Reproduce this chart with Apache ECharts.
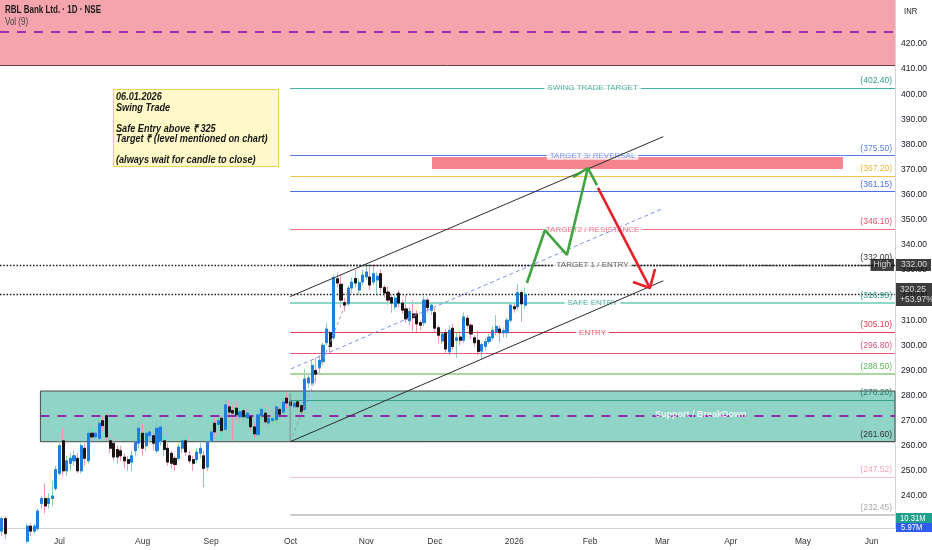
<!DOCTYPE html>
<html><head><meta charset="utf-8">
<script src="https://cdn.jsdelivr.net/npm/echarts@6/dist/echarts.min.js"></script>
<style>html,body{margin:0;padding:0;background:#fff}#c{width:932px;height:550px}</style>
</head><body><div id="c"></div>
<script>
// ---------- categories (NSE trading days) ----------
const startDate = '2025-06-09', endDate = '2026-06-09';
const holidays = ['2025-08-15','2025-08-27','2025-10-02','2025-10-22','2025-11-05','2025-12-25',
  '2026-01-26','2026-03-03','2026-03-26','2026-03-31','2026-04-03','2026-04-14','2026-05-01','2026-05-28'];
const monthNames = ['Jan','Feb','Mar','Apr','May','Jun','Jul','Aug','Sep','Oct','Nov','Dec'];

// ---------- daily candles (from 2025-06-09 to 2026-01-06) ----------
const opens = [226,231,225,222,224,221,219,222,228,226,227,237,239,237,239,243,249,262,250,253,254,255,250,259,254,265,263.5,263,270,272,
 262,261,258.5,258,255.5,254.5,253.5,258,261,265,260,264,264,258,262,262,259,257,255,255,259,262,256,254.5,254.5,257,256,251.5,262,269,
 268.5,271,266.5,275.5,274,275,271.5,274,271,271.5,267.5,264.5,272,273,269,270,270.3,274.5,273.4,279,277.5,275.5,277.5,276,274.5,285,285,290,291,293.5,
 301,305,303,326.5,324.3,317,316.5,322.8,326.6,322,325.2,327.2,327.2,325.2,326,328.5,323,321.2,319,315.3,320.8,316.8,314.5,309.8,312.5,312.5,309,309,318,314,
 313,307,301.7,305,297.4,306.8,302,303.3,302,310.8,308,303,302,297.7,299.6,301.5,303,305.5,306.5,305,305,310,315.4,315.3,321,316];
const closes = [231,225,222,224,221,219,222,228,226,228,234,239,236,239,240,250.5,260,250,254,255,256,250,260,255,265,263.5,265,269,268,263.5,
 259,255.5,255.5,256,254,253,256,261.5,267,259,265,265.5,261,267,267.5,258.5,253.5,253,252.5,259.5,262,257.5,254,253,257.5,259,251,261.5,265.5,265.5,
 270,266,276.3,273.4,273,272.3,273.5,271.5,273,267.5,264.7,272.3,274.5,269.5,271,270.8,275.5,272.5,277.4,277,276,277,275.5,273.5,286.6,287,292,288.5,294,300,
 306.5,299.5,327,324.8,318,316,322.8,325.2,324.8,325,328,329.2,324,328.5,327.5,323,320.8,318,316.8,318.8,316.8,314,310.5,313.5,311,308.5,308,318,315,316,
 306.8,304,304.5,298.5,306,299.5,303,302,311.3,308,304.5,301,297.5,300.3,301.5,303.3,306,307.5,305,305.8,310,316,314.5,321,316.5,320.25];
const lows = [224,223,220,220,219,217,218,221,224,225,226,235,233,235,236,242,248,248,248,250,252,249,249,252,253,262,262,262,266,262,
 257,254,253,254,251,250,250,256,259,256,258,261,258,257,260,256,252,251,250,254,257,256,253,250,253,255,243.5,250,261,264,
 266,264,265,271,262,270,269,269,268,266,263,263,270,268,267,268,269,271,272,275,274,274,274,272,273,283,284,285,289,292,
 300,297,302,323,315,313.5,315.5,321,323,320,324,326,322,324,320,321,319,316,313,314,315,312.5,309,308,305.5,305,306,307.5,313,312,
 305,301,300.5,297,296,298,295,300,301,306.5,302.5,299.5,296,294.5,298,300.5,302,304,301,303,303,309,313,314,309.4,314.5];
const highs = [232,232,226,226,225,223,224,229,229,229,235,240,245,241,246,252,262,267,256,257,258,257,261,261,268,267,266,272,272,273,
 263,263,260,260,257,256,258,263,270,269,267,267,265,270,272,264,261,258,256,261,263,264,258,256,259,261,258,263,267,271,
 272,272,279,278,276,277,275,275,275,273,269,274,276,276,272,272,278,276,279,281,279,278,278.5,277,290.5,289,294,295,296,301,
 309,306,328,329,328,319,324,327,330,326.5,330,332,331.5,332,329,330,324,323.5,320,320,322,318,320,315,318,314,310,319.5,319,317,
 315,308,305.5,306.5,308,308.5,305,305,313,312,309,304,306,301,303,304.5,307.5,312,308,307,311,317,317,324.5,322,323];

// ---------- price axis & tags ----------
const priceTicks = [240,250,260,270,280,290,300,310,320,330,340,350,360,370,380,390,400,410,420];
const yMin = 227.25, yMax = 437.5;
const lastPrice = 320.25, lastChange = '+53.97%';
const highPrice = 332.00;
const volumeTags = ['10.31M', '5.97M'];

// ---------- fibonacci / level tool ----------
const fibLevels = [402.40, 375.50, 367.20, 361.15, 346.10, 332.00, 316.95, 305.10, 296.80, 288.50, 278.20, 261.60, 247.52, 232.45];
const fibNames  = ['SWING TRADE TARGET','TARGET 3/ REVERSAL','','','TARGET2 / RESISTANCE','TARGET 1 / ENTRY','SAFE ENTRY','ENTRY','','','','','',''];
const fibStartIdx = 79.9;

// ---------- zones (bar index, price) ----------
const resistanceZoneTop = 411.6;
const resistanceMidLine = 424.8;
const supportBox = [10.7, 261.6, 281.8];    // [start index, bottom price, top price]
const supportMidLine = 272.0;
const supportLabel = ['Support / BreakDown', 193.7, 272.6];
const reversalZone = [119.2, 370.2, 233.1, 375.0]; // [x0, y0, x1, y1]

// ---------- drawings (bar index, price) ----------
const upperChannel = [[79.9, 319.4], [183.3, 383.1]];
const lowerChannel = [[79.9, 261.6], [183.3, 325.7]];
const midChannel   = [[80.1, 290.6], [182.9, 354.3]];
const fibBaseLine  = [[79.9, 261.6], [95.4, 316.95]];
const fibVertical  = [[79.9, 261.6], [79.9, 281.0]];
const greenPath    = [[145.5, 324.8], [150.5, 345.9], [156.6, 336.0], [162.4, 370.6]];
const greenHead    = [[158.3, 367.0], [162.4, 370.6], [164.9, 363.8]];
const redPath      = [[165.2, 362.7], [179.6, 322.8]];
const redHead      = [[174.9, 325.2], [179.6, 322.8], [181.0, 330.4]];

// ---------- note ----------
const noteLines = ['06.01.2026','Swing Trade','','Safe Entry above ₹ 325','Target ₹ (level mentioned on chart)','','(always wait for candle to close)'];

// ================= build =================
function buildDays() {
  const out = [];
  const d = new Date(startDate + 'T00:00:00Z');
  const end = new Date(endDate + 'T00:00:00Z');
  while (d <= end) {
    const wd = d.getUTCDay();
    const s = d.toISOString().slice(0, 10);
    if (wd !== 0 && wd !== 6 && holidays.indexOf(s) < 0) out.push(s);
    d.setUTCDate(d.getUTCDate() + 1);
  }
  return out;
}
const days = buildDays();
const N = days.length;
const firstOfMonth = new Set();
for (let i = 1; i < N; i++) if (days[i].slice(5, 7) !== days[i - 1].slice(5, 7)) firstOfMonth.add(i);

const FONT = '"Liberation Sans",Arial,sans-serif';
const fibColors = ['#45b09e','#5b7be8','#f5c24a','#4a6fe5','#ef6f80','#222','#8fd8c8','#e53950','#e8587a','#a8d8a0','#34a08e','#4a4a4a','#f8c0cc','#bdbdbd'];
const fibTextColors = ['#2e9e88','#5b7fe6','#f0b73c','#4a70e0','#e8506e','#333','#2e9e88','#e53950','#e0557a','#5cb85c','#2c7a6a','#333','#f4a6b6','#aaa'];
const fibWidths = [1,1,1.2,1,1.2,1.4,2.2,1,1,2,1,1,1,1.6];
const CLEAR = 'rgba(0,0,0,0)';

const candleData = opens.map((o, i) => [o, closes[i], lows[i], highs[i]]);
const bodyData = opens.map((o, i) => [o, closes[i], Math.min(o, closes[i]), Math.max(o, closes[i])]);
const fibEnd = N - 0.5;
const fibMid = (fibStartIdx + fibEnd) / 2;

function drawLine(name, data, color, width, type, z) {
  return { name, type: 'line', xAxisIndex: 1, data, symbol: 'none', silent: true, z: z || 6,
    lineStyle: { color, width, type: type || 'solid' }, animation: false };
}

const chart = echarts.init(document.getElementById('c'), null, { renderer: 'canvas' });
const option = {
  animation: false,
  backgroundColor: '#ffffff',
  grid: { left: 0, right: 37, top: 0, bottom: 22 },
  xAxis: [
    { type: 'category', data: days, boundaryGap: true,
      axisLine: { show: true, onZero: false, lineStyle: { color: '#d1d4dc' } },
      axisTick: { show: false }, splitLine: { show: false },
      axisLabel: { interval: (i) => firstOfMonth.has(i), margin: 9,
        formatter: (v) => { const m = +v.slice(5, 7); return m === 1 ? v.slice(0, 4) : monthNames[m - 1]; },
        color: '#333', fontSize: 8.5, fontFamily: FONT } },
    { type: 'value', min: -0.5, max: N - 0.5, show: false, axisLine: { show: false, onZero: false } }
  ],
  yAxis: { type: 'value', position: 'right', min: yMin, max: yMax, scale: true,
    axisLine: { show: true, onZero: false, lineStyle: { color: '#d1d4dc' } },
    axisTick: { show: false }, splitLine: { show: false },
    axisLabel: { customValues: priceTicks, formatter: (v) => v.toFixed(2), color: '#131722', fontSize: 8.5, margin: 6, fontFamily: FONT } },
  series: [
    // zones
    { name: 'zones', type: 'line', xAxisIndex: 1, data: [[fibStartIdx, fibLevels[0]]], symbol: 'none', silent: true, z: 1,
      lineStyle: { opacity: 0 },
      markArea: { silent: true, data: [
        [{ coord: [-0.5, resistanceZoneTop], itemStyle: { color: '#f5a3ac' } }, { coord: [N - 0.5, yMax] }],
        [{ coord: [supportBox[0], supportBox[1]], itemStyle: { color: '#90d4c7', borderColor: '#4a4a4a', borderWidth: 1 } }, { coord: [N - 0.5, supportBox[2]] }]
      ] },
      markLine: { silent: true, symbol: ['none', 'none'], label: { show: false }, data: [
        [{ coord: [-0.5, resistanceZoneTop], lineStyle: { color: '#6b3f44', width: 1, type: 'solid' } }, { coord: [N - 0.5, resistanceZoneTop] }],
        [{ coord: [-0.5, resistanceMidLine], lineStyle: { color: '#a02cb5', width: 2, type: [9, 8] } }, { coord: [N - 0.5, resistanceMidLine] }],
        [{ coord: [supportBox[0], supportMidLine], lineStyle: { color: '#8e2aa8', width: 2, type: [9, 8] } }, { coord: [N - 0.5, supportMidLine] }]
      ] } },
    // reversal zone (above level labels)
    { name: 'reversal', type: 'line', xAxisIndex: 1, data: [[reversalZone[0], reversalZone[1]]], symbol: 'none', silent: true, z: 9,
      lineStyle: { opacity: 0 },
      markArea: { silent: true, data: [
        [{ coord: [reversalZone[0], reversalZone[1]], itemStyle: { color: '#f5848f' } }, { coord: [reversalZone[2], reversalZone[3]] }]
      ] } },
    // fib level lines
    { name: 'fib', type: 'line', xAxisIndex: 1, data: [[fibStartIdx, fibLevels[0]]], symbol: 'none', silent: true, z: 2,
      lineStyle: { opacity: 0 },
      markLine: { silent: true, symbol: ['none', 'none'], data: fibLevels.map((lv, i) => [
        { coord: [fibStartIdx, lv],
          lineStyle: { color: fibColors[i], width: fibWidths[i], type: lv === highPrice ? [1.5, 1.5] : 'solid' },
          label: { show: true, position: 'insideEndTop', distance: 3, formatter: '(' + lv.toFixed(2) + ')',
            color: fibTextColors[i], fontSize: 8.5, fontFamily: FONT } },
        { coord: [fibEnd, lv] }
      ]) } },
    // price lines (high & last)
    { name: 'priceLines', type: 'line', xAxisIndex: 1, data: [[fibStartIdx, lastPrice]], symbol: 'none', silent: true, z: 3,
      lineStyle: { opacity: 0 },
      markLine: { silent: true, symbol: ['none', 'none'], label: { show: false }, data: [
        { yAxis: highPrice, lineStyle: { color: '#1a1a1a', width: 1.4, type: [1.5, 1.8] } },
        { yAxis: lastPrice, lineStyle: { color: '#1a1a1a', width: 1.4, type: [1.5, 1.8] } }
      ] } },
    // candles: wicks, then bodies
    { name: 'wick', type: 'candlestick', data: candleData, barWidth: 2.6, z: 4, silent: true,
      itemStyle: { color: '#86cdbb', color0: '#f295ad', borderColor: '#86cdbb', borderColor0: '#f295ad', borderWidth: 1 } },
    { name: 'body', type: 'candlestick', data: bodyData, barWidth: 2.6, z: 5, silent: true,
      itemStyle: { color: '#1e7fe0', color0: '#1c1414', borderColor: '#1e7fe0', borderColor0: '#1c1414', borderWidth: 1 } },
    // drawings
    drawLine('upper', upperChannel, '#2b2b2b', 1, 'solid', 10),
    drawLine('lower', lowerChannel, '#2b2b2b', 1, 'solid', 10),
    drawLine('mid', midChannel, '#7d8ff0', 1, [4, 3], 10),
    drawLine('fibBase', fibBaseLine, '#9e9e9e', 1, [3, 3]),
    drawLine('fibVert', fibVertical, '#8a8a8a', 1),
    drawLine('greenPath', greenPath, '#3fa33f', 2.6, 'solid', 11),
    drawLine('greenHead', greenHead, '#3fa33f', 2.6, 'solid', 11),
    drawLine('redPath', redPath, '#e8202a', 2.6, 'solid', 11),
    drawLine('redHead', redHead, '#e8202a', 2.6, 'solid', 11),
    // text labels on levels
    { name: 'fibNames', type: 'scatter', xAxisIndex: 1, symbolSize: 2, itemStyle: { color: CLEAR }, silent: true, z: 8, clip: false,
      data: fibLevels.map((lv, i) => fibNames[i] ? { value: [fibMid, lv], name: fibNames[i],
        label: { color: fibTextColors[i] } } : null).filter(Boolean),
      label: { show: true, position: 'inside', formatter: (p) => p.name, fontSize: 8, fontFamily: FONT,
        backgroundColor: '#ffffff', padding: [0, 3] } },
    { name: 'boxLabel', type: 'scatter', xAxisIndex: 1, symbolSize: 2, itemStyle: { color: CLEAR }, silent: true, z: 8,
      data: [{ value: [supportLabel[1], supportLabel[2]], name: supportLabel[0] }],
      label: { show: true, position: 'inside', formatter: (p) => p.name, color: '#ffffff', fontSize: 9, fontWeight: 'bold', fontFamily: FONT } },
    // axis tags
    { name: 'tags', type: 'scatter', xAxisIndex: 1, symbolSize: 2, itemStyle: { color: CLEAR }, silent: true, z: 20, clip: false,
      data: [
        { value: [N - 0.5, highPrice], name: 'High', label: { position: 'left', distance: 0, padding: [2, 3, 1, 3] } },
        { value: [N - 0.5, highPrice], name: highPrice.toFixed(2), label: { position: 'right', distance: 0, padding: [2, 4, 1, 5] } },
        { value: [N - 0.5, lastPrice], name: lastPrice.toFixed(2) + '\n' + lastChange, label: { position: 'right', distance: 0, padding: [2, 2, 1, 4], lineHeight: 10 } }
      ],
      label: { show: true, formatter: (p) => p.name, color: '#ffffff', backgroundColor: '#0c0c0c', fontSize: 8.5, fontFamily: FONT } }
  ],
  graphic: [
    { type: 'text', x: 5, y: 5, z: 50, scaleX: 0.8, style: { text: 'RBL Bank Ltd. · 1D · NSE', font: '600 10px ' + FONT, fill: '#1a1a1a' } },
    { type: 'text', x: 5, y: 17, z: 50, scaleX: 0.8, style: { text: 'Vol (9)', font: '10px ' + FONT, fill: '#444' } },
    { type: 'text', x: 904, y: 7, z: 50, scaleX: 0.85, style: { text: 'INR', font: '9px ' + FONT, fill: '#222' } },
    { type: 'group', z: 50, children: [
      { type: 'rect', shape: { x: 113.5, y: 89.5, width: 165, height: 77 }, style: { fill: '#fff8c8', stroke: '#f3cd5a', lineWidth: 1 } },
      { type: 'text', x: 116, y: 92, scaleX: 0.87, style: { text: noteLines.join('\n'), font: 'italic bold 10.5px ' + FONT, lineHeight: 10.5, fill: '#161616' } }
    ] },
    { type: 'group', z: 50, children: [
      { type: 'rect', shape: { x: 896, y: 513, width: 36, height: 10 }, style: { fill: '#1fa08c' } },
      { type: 'text', x: 900, y: 514, scaleX: 0.85, style: { text: volumeTags[0], font: '9px ' + FONT, fill: '#fff' } },
      { type: 'rect', shape: { x: 896, y: 523, width: 36, height: 9 }, style: { fill: '#2f5df0' } },
      { type: 'text', x: 901, y: 523.5, scaleX: 0.85, style: { text: volumeTags[1], font: '9px ' + FONT, fill: '#fff' } }
    ] }
  ]
};
chart.setOption(option);
</script>
</body></html>
